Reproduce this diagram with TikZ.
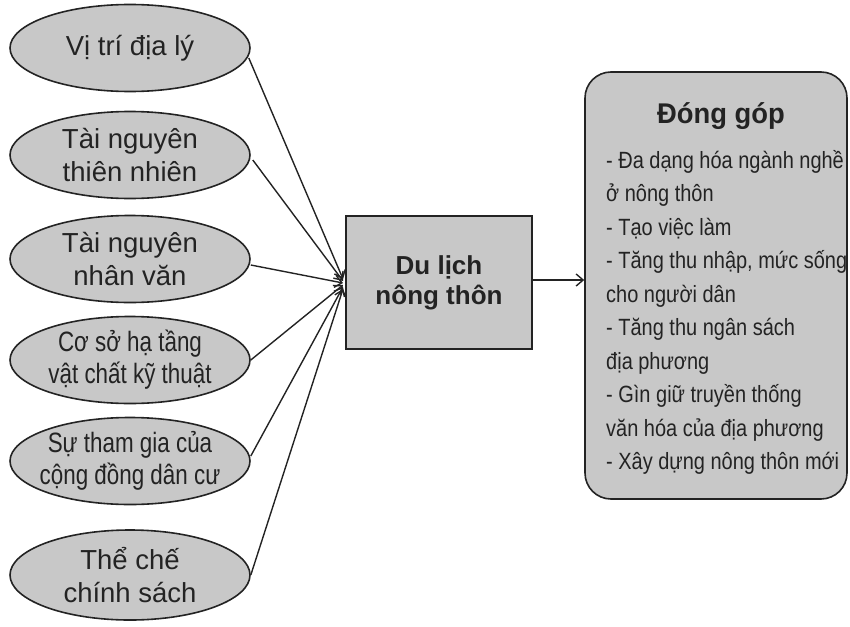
\documentclass[tikz,border=0pt]{standalone}
\usepackage{fontspec}
\setmainfont{Liberation Sans}
\newfontfamily\narrowA[FakeStretch=0.8]{Liberation Sans}
\newfontfamily\narrowB[FakeStretch=0.85]{Liberation Sans}
\newfontfamily\narrowC[FakeStretch=0.96]{Liberation Sans}
\usetikzlibrary{shapes.geometric,arrows.meta}
\definecolor{boxfill}{RGB}{200,200,200}
\definecolor{ink}{RGB}{35,35,35}
\tikzset{
  factor/.style={ellipse, draw=ink, line width=1.6pt, fill=boxfill, minimum width=240pt, minimum height=87pt, inner xsep=-40pt, inner ysep=0pt, align=center, font=\fontsize{27.5}{33}\selectfont, text=ink},
  factornarrow/.style={factor, font=\narrowA\fontsize{28}{32}\selectfont},
  core/.style={rectangle, draw=ink, line width=1.6pt, fill=boxfill, minimum width=186pt, minimum height=133pt, align=center, font=\fontsize{26}{30}\selectfont\bfseries, text=ink},
  result/.style={rectangle, rounded corners=26pt, draw=ink, line width=1.6pt, fill=boxfill, minimum width=262pt, minimum height=427pt},
  link/.style={draw=ink, line width=1.4pt, -{Straight Barb[length=7pt,width=12pt]}}
}
\begin{document}
\begin{tikzpicture}[x=1pt,y=-1pt]
\useasboundingbox (0,0) rectangle (850,626);
\node[factor] (f1) at (130,48) {Vị trí địa lý};
\node[factor] (f2) at (130,155) {Tài nguyên\\thiên nhiên};
\node[factor] (f3) at (130,259) {Tài nguyên\\nhân văn};
\node[factornarrow] (f4) at (130,360) {Cơ sở hạ tầng\\vật chất kỹ thuật};
\node[factornarrow] (f5) at (130,461) {Sự tham gia của\\cộng đồng dân cư};
\node[factor, minimum height=90pt] (f6) at (130,575) {Thể chế\\chính sách};
\node[core] (dl) at (439,282.5) {Du lịch\\nông thôn};
\node[result] (dg) at (716,285.5) {};
\node[font=\narrowC\fontsize{28.5}{33}\selectfont\bfseries, text=ink, anchor=base] (dgt) at (721,123) {Đóng góp};
\node[font=\narrowB\fontsize{23.5}{33.5}\selectfont, text=ink, align=left, anchor=base west, inner sep=0pt] (dgl) at (606,469.5) {- Đa dạng hóa ngành nghề\\ở nông thôn\\- Tạo việc làm\\- Tăng thu nhập, mức sống\\cho người dân\\- Tăng thu ngân sách\\địa phương\\- Gìn giữ truyền thống\\văn hóa của địa phương\\- Xây dựng nông thôn mới};
\coordinate (e1) at (343,279);
\coordinate (e2) at (343,281);
\coordinate (e3) at (343,283);
\coordinate (e4) at (343,285);
\coordinate (e5) at (343,287);
\coordinate (e6) at (343,289);
\draw[link] (f1.east) ++(-2,10) -- (e1);
\draw[link] (f2.east) ++(2,5) -- (e2);
\draw[link] (f3.east) ++(0,6) -- (e3);
\draw[link] (f4.east) -- (e4);
\draw[link] (f5.east) ++(0,-5) -- (e5);
\draw[link] (f6.east) -- (e6);
\draw[link] (dl.east |- 0,280) -- (dg.west |- 0,280);
\end{tikzpicture}
\end{document}
